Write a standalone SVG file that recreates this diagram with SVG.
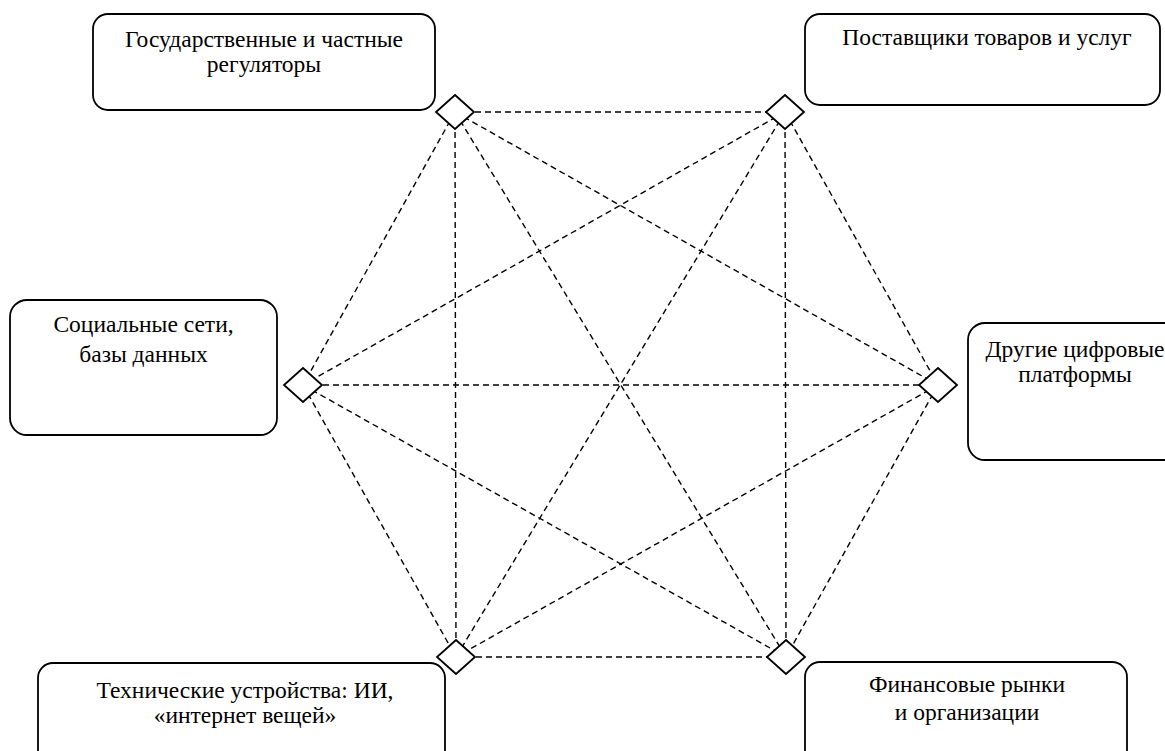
<svg xmlns="http://www.w3.org/2000/svg" width="1165" height="751" viewBox="0 0 1165 751">
<style>
.box{fill:#fff;stroke:#000;stroke-width:1.8}
.dia{fill:#fff;stroke:#000;stroke-width:1.8}
.t{font-family:'Liberation Serif','DejaVu Serif',serif;font-size:23.5px;fill:#000;text-anchor:middle}
.c line{stroke:#000;stroke-width:1.4;stroke-dasharray:6 4}
</style>
<rect width="1165" height="751" fill="#fff"/>
<g id="connectors" class="c">
<line x1="455" y1="112" x2="785" y2="112"/>
<line x1="455" y1="112" x2="303" y2="385"/>
<line x1="455" y1="112" x2="938" y2="385"/>
<line x1="455" y1="112" x2="456" y2="657"/>
<line x1="455" y1="112" x2="786" y2="657"/>
<line x1="785" y1="112" x2="303" y2="385"/>
<line x1="785" y1="112" x2="938" y2="385"/>
<line x1="785" y1="112" x2="456" y2="657"/>
<line x1="785" y1="112" x2="786" y2="657"/>
<line x1="303" y1="385" x2="938" y2="385"/>
<line x1="303" y1="385" x2="456" y2="657"/>
<line x1="303" y1="385" x2="786" y2="657"/>
<line x1="938" y1="385" x2="456" y2="657"/>
<line x1="938" y1="385" x2="786" y2="657"/>
<line x1="456" y1="657" x2="786" y2="657"/>
</g>
<g id="n-regulators">
<rect class="box" x="93" y="14" width="342" height="96" rx="15"/>
<text class="t" x="264" y="47">Государственные и частные</text>
<text class="t" x="264" y="72">регуляторы</text>
<polygon class="dia" points="455,95 474,112 455,129 436,112"/>
</g>
<g id="n-suppliers">
<rect class="box" x="805" y="14" width="355" height="91" rx="15"/>
<text class="t" x="987" y="45">Поставщики товаров и услуг</text>
<polygon class="dia" points="785,95 804,112 785,129 766,112"/>
</g>
<g id="n-social">
<rect class="box" x="10" y="300" width="267" height="135" rx="17"/>
<text class="t" x="143.5" y="332">Социальные сети,</text>
<text class="t" x="143.5" y="362">базы данных</text>
<polygon class="dia" points="303,368 322,385 303,402 284,385"/>
</g>
<g id="n-platforms">
<rect class="box" x="968" y="323" width="214" height="137" rx="17"/>
<text class="t" x="1075" y="357">Другие цифровые</text>
<text class="t" x="1075" y="382">платформы</text>
<polygon class="dia" points="938,368 957,385 938,402 919,385"/>
</g>
<g id="n-devices">
<rect class="box" x="38" y="663" width="407" height="110" rx="15"/>
<text class="t" x="245" y="698">Технические устройства: ИИ,</text>
<text class="t" x="245" y="723">«интернет вещей»</text>
<polygon class="dia" points="456,640 475,657 456,674 437,657"/>
</g>
<g id="n-finance">
<rect class="box" x="805" y="662" width="322" height="110" rx="15"/>
<text class="t" x="967" y="692">Финансовые рынки</text>
<text class="t" x="967" y="720">и организации</text>
<polygon class="dia" points="786,640 805,657 786,674 767,657"/>
</g>
</svg>
